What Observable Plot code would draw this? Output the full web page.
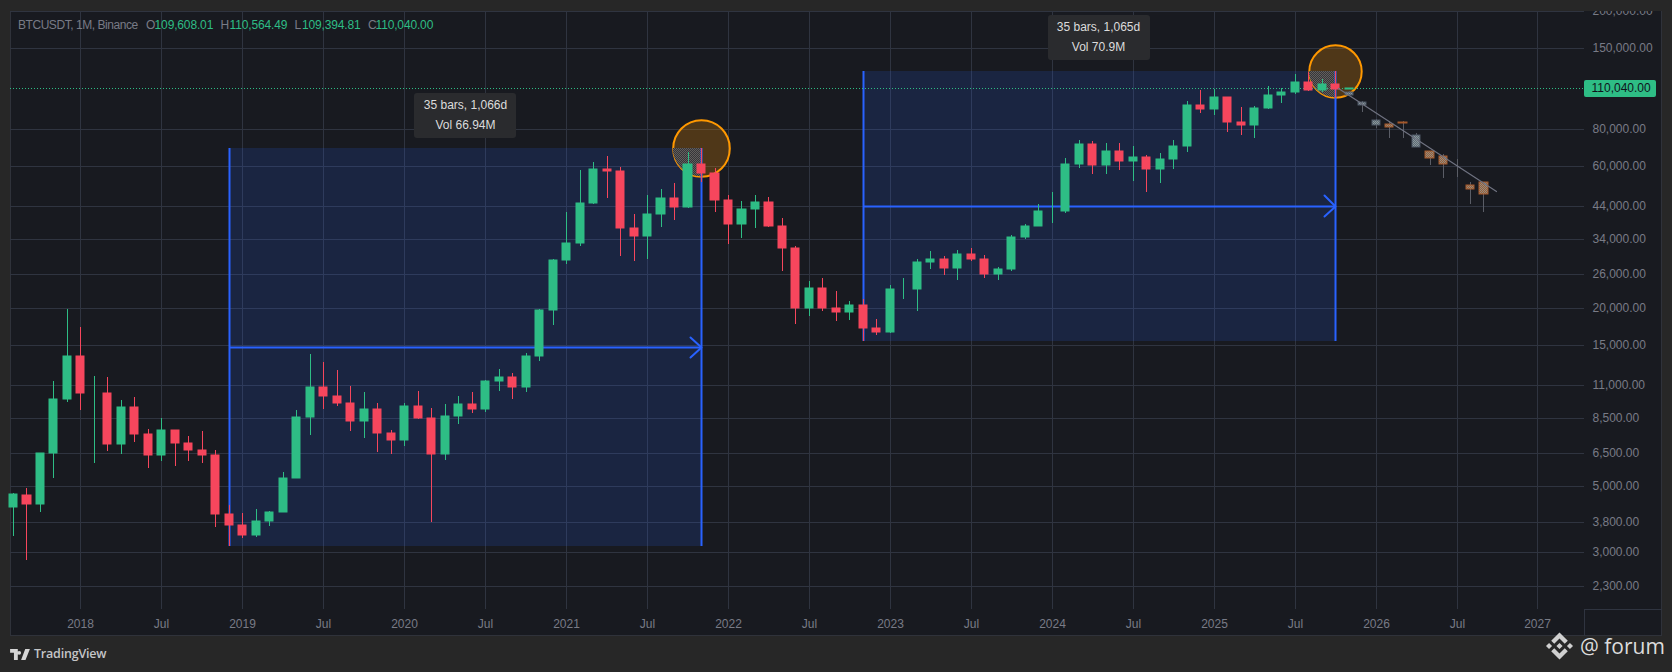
<!DOCTYPE html>
<html>
<head>
<meta charset="utf-8">
<script src="https://cdn.jsdelivr.net/npm/d3@7"></script>
<script src="https://cdn.jsdelivr.net/npm/@observablehq/plot@0.6"></script>
<style>
  html,body{margin:0;padding:0;background:#272727;}
  #page{position:relative;width:1672px;height:672px;overflow:hidden;background:#272727;font-family:"Liberation Sans",Arial,sans-serif;}
  #pane{position:absolute;left:10px;top:10px;width:1652px;height:626px;box-sizing:border-box;border:1px solid #2f323a;background:#181a20;}
  #corner{position:absolute;left:1584px;top:609px;width:78px;height:27px;box-sizing:border-box;border-left:1px solid #2f3440;border-top:1px solid #2f3440;}
  #chart{position:absolute;left:0;top:0;}
  #chart svg{display:block;background:transparent;}
  #topcover{position:absolute;left:0;top:0;width:1672px;height:11px;background:#272727;}
  #legend{position:absolute;left:0;top:17px;width:500px;height:16px;font-size:12px;line-height:16px;color:#787b86;white-space:pre;}
  #legend span{position:absolute;top:0;letter-spacing:-.15px;}
  #legend span.val{color:#2ebd85;}
  #tv{position:absolute;left:10px;top:646px;display:flex;align-items:center;color:#c4c5c7;font-size:12.5px;line-height:16px;font-family:"Open Sans","Liberation Sans",sans-serif;font-weight:600;letter-spacing:-.2px;}
  #forum{position:absolute;left:1546px;top:632px;display:flex;align-items:center;color:#dcdcdc;font-family:"Open Sans","Noto Sans",sans-serif;font-size:21px;line-height:28px;white-space:pre;}
</style>
</head>
<body>
<svg width="0" height="0" style="position:absolute">
  <defs>
    <pattern id="ditherGray" width="2" height="2" patternUnits="userSpaceOnUse">
      <rect width="2" height="2" fill="#5f6c74"/><rect width="1" height="1" fill="#8a979c"/><rect x="1" y="1" width="1" height="1" fill="#8a979c"/>
    </pattern>
    <pattern id="ditherBrown" width="2" height="2" patternUnits="userSpaceOnUse">
      <rect width="2" height="2" fill="#a0602f"/><rect width="1" height="1" fill="#8b8b8b"/><rect x="1" y="1" width="1" height="1" fill="#8b8b8b"/>
    </pattern>
    <pattern id="ditherPatch" width="2" height="2" patternUnits="userSpaceOnUse">
      <rect width="2" height="2" fill="#36353a"/><rect width="1" height="1" fill="#625f5c"/><rect x="1" y="1" width="1" height="1" fill="#625f5c"/>
    </pattern>
  </defs>
</svg>
<div id="page">
  <div id="pane"></div>
  <div id="corner"></div>
  <div id="chart"></div>
  <div id="topcover"></div>
  <div id="legend"></div>
  <div id="tv">
    <svg width="20" height="11" viewBox="0 0 36 20" style="margin-right:4px"><path fill="#d6d6d6" d="M14 20H7V7H0V0h14v20zM28 20h-8l7.5-20H36zM20 7a3.5 3.5 0 1 1-7 0 3.5 3.5 0 0 1 7 0z"/></svg>
    <span>TradingView</span>
  </div>
  <div id="forum">
    <svg width="27" height="28" viewBox="0 0 126.61 126.61" fill="#d0d0d0" style="margin-right:7px"><path d="M38.73 53.2l24.59-24.58 24.6 24.6 14.3-14.31L63.32 0 24.42 38.9z"/><path d="M0 63.31l14.3-14.31 14.31 14.31-14.31 14.3z"/><path d="M38.73 73.41L63.32 98l24.6-24.6 14.31 14.29-38.9 38.91-38.91-38.88z"/><path d="M98 63.31l14.3-14.31 14.31 14.3-14.31 14.31z"/><path d="M77.83 63.3L63.32 48.78 52.59 59.51l-1.24 1.23-2.54 2.54 14.51 14.5 14.51-14.47z"/></svg><span>@ forum</span>
  </div>
</div>
<script>
// Monthly bars, first bar Aug 2017. Bar position = months since Jan 2018.
const firstBar = -5;
const opens = [4261,4689,4378,6463,9837,13716,10285,10325,6922,9246,7485,6391,7735,7011,6626,6369,4041,
  3701,3434,3814,4102,5321,8555,10854,10085,9588,8289,9140,7540,
  7195,9352,8523,6412,8620,9448,9138,11335,11649,10776,13791,19698,
  28923,33092,45134,58739,57697,37253,35045,41461,47100,43820,61300,56950,
  46216,38466,43160,45510,37630,31801,19942,23296,20048,19422,20490,17165,
  16541,23125,23141,28465,29233,27210,30472,29232,25941,26963,34639,37723,
  42283,42580,61130,71280,60672,67540,62772,64628,58974,63327,70215,96407,
  93576,102429,84350,82550,94172,104591,107147,115764,108246,114048,109608.01];
const highs = [4745,4939,6470,11300,19798,17176,11786,11710,9759,10020,7786,8491,7750,7410,7680,6615,4312,
  4069,4198,4140,5600,9074,13971,13148,12325,10905,10370,9532,7750,
  9575,10500,9188,9469,10067,10380,11444,12468,12050,14100,19863,29300,
  41950,58352,61844,64854,59500,41330,48168,50500,52920,67000,69000,59053,
  47990,45821,48189,47444,40023,32395,24668,25211,22799,21085,21480,18387,
  23960,25250,29184,31000,29820,31431,31804,30244,27500,35280,38450,44700,
  48969,63913,73777,72797,71979,71949,70079,65659,66498,73620,99588,108353,
  109588,102500,95000,95758,111980,110530,123218,124474,117900,126199,110564.49];
const lows = [3400,2817,4110,5325,9600,9035,6000,6600,6430,7032,5750,6070,5880,6100,6000,3652,3156,
  3349,3373,3670,4096,5316,7440,9111,9350,7710,7300,6515,6435,
  6850,8445,3782,6150,8117,8833,8893,10518,9825,10374,13195,17572,
  28130,32296,44950,47000,30000,28805,29278,37332,39600,43283,53256,42000,
  32917,34322,37155,37578,26700,17622,18781,19520,18125,18190,15476,16256,
  16499,21351,19549,26942,25811,24800,28861,25166,24901,26538,34097,37615,
  38555,41884,59005,56552,56382,58402,53485,49000,52550,58946,66835,90500,
  89256,78258,76606,74508,93377,98200,105100,107282,107255,102000,109394.81];
const closes = [4724,4378,6463,9838,13716,10285,10326,6923,9246,7485,6391,7730,7011,6626,6371,4041,3702,
  3434,3813,4103,5320,8555,10854,10085,9588,8289,9140,7541,7195,
  9353,8523,6410,8620,9448,9138,11335,11649,10776,13791,19700,28923,
  33092,45135,58740,57694,37253,35045,41461,47100,43824,61299,56950,46216,
  38466,43160,45510,37630,31801,19942,23293,20050,19422,20490,17164,16542,
  23125,23142,28465,29233,27210,30472,29232,25941,26963,34639,37723,42283,
  42580,61130,71280,60672,67540,62772,64628,58974,63327,70215,96407,93576,
  102429,84350,82550,94172,104591,107147,115764,108246,114048,109608,110040];

// Pasted projection bars
const ghostBars  = [94,95,96,97,98,99,100,101,102,103,104];
const ghostTop   = [107100,98900,85700,83300,84800,76700,67400,65000,59900,51900,53100];
const ghostBot   = [104400,96800,82800,81700,84100,69700,64100,61200,59700,50400,48500];
const ghostHigh  = [107500,99500,86800,85500,85000,78000,67400,66100,63300,53000,53300];
const ghostLow   = [103500,91700,80500,74800,74800,69700,60600,54900,55300,44900,42150];
const ghostTone  = ["gray","gray","gray","brown","brown","gray","brown","brown","gray","brown","brown"];

// Axis ticks
const xTicks  = [0,6,12,18,24,30,36,42,48,54,60,66,72,78,84,90,96,102,108];
const xLabels = ["2018","Jul","2019","Jul","2020","Jul","2021","Jul","2022","Jul","2023","Jul","2024","Jul","2025","Jul","2026","Jul","2027"];
const yTicks  = [200000,150000,80000,60000,44000,34000,26000,20000,15000,11000,8500,6500,5000,3800,3000,2300];

// Drawings
const lastPrice = 110040;
const ranges = [
  {start:11, end:46, high:69000, low:3156},
  {start:58, end:93, high:126199, low:15476}
];
const arrowBack = 0.8;
const arrowSpread = 1.083;
const rangeLabels = [
  {x1:24.7, x2:32.26, yTop:106000, yBot:74760, x:28.48, y1:96960, y2:82700, t1:"35 bars, 1,066d", t2:"Vol 66.94M"},
  {x1:71.7, x2:79.25, yTop:194200, yBot:136900, x:75.45, y1:177000, y2:151500, t1:"35 bars, 1,065d", t2:"Vol 70.9M"}
];
const circleRadius = [28.3, 26.2];
const trendX = [93.2, 104.9];
const trendY = [110000, 49600];
const tagBar = {x1:111.46, x2:116.77, yTop:117270, yBot:102780, xText:111.98};

// Legend: text, left position
const legendParts = [
  ["BTCUSDT, 1M, Binance",18,"",-0.45],["O",146,"",0],["109,608.01",154.6,"val",0],
  ["H",220.6,"",0],["110,564.49",229.6,"val",0],["L",294.6,"",0],["109,394.81",302,"val",0],
  ["C",368,"",0],["110,040.00",375.5,"val",0]
];
const legendEl = document.getElementById("legend");
legendParts.forEach(([t,l,c,ls]) => {
  const s = document.createElement("span");
  s.textContent = t; s.style.left = l+"px"; if (c) s.className = c; if (ls) s.style.letterSpacing = ls+"px";
  legendEl.appendChild(s);
});

const bars = opens.map((o,i) => ({i:firstBar+i, o, h:highs[i], l:lows[i], c:closes[i], top:Math.max(o,closes[i]), bot:Math.min(o,closes[i]), color: closes[i]>=o ? "#2ebd85" : "#f6465d"}));
const ghosts = ghostBars.map((b,k) => ({i:b, top:ghostTop[k], bot:ghostBot[k], h:ghostHigh[k], l:ghostLow[k], tone:ghostTone[k]}));
const arrows = ranges.map(r => {
  const m = Math.sqrt(r.high*r.low);
  return [{x:r.end-arrowBack,y:m*arrowSpread},{x:r.end,y:m},{x:r.end-arrowBack,y:m/arrowSpread}];
});
const blue = "#2962ff", grid = "#2f3440", gray = "#787b86";
const half = 0.3;
const ghostFill = d => d.tone==="brown" ? "url(#ditherBrown)" : "url(#ditherGray)";
const ghostStroke = d => d.tone==="brown" ? "#a5582a" : "#4b5563";

const clipToCircle = (id, cx, cy, r) => function(index, scales, values, dims, ctx, next){
  const g = next(index, scales, values, dims, ctx);
  const ns = "http://www.w3.org/2000/svg";
  const clip = document.createElementNS(ns,"clipPath"); clip.setAttribute("id",id);
  const c = document.createElementNS(ns,"circle");
  c.setAttribute("cx",scales.x(cx)); c.setAttribute("cy",scales.y(cy)); c.setAttribute("r",r);
  clip.appendChild(c); g.appendChild(clip); g.setAttribute("clip-path","url(#"+id+")");
  return g;
};

const chart = Plot.plot({
  width:1672, height:672,
  marginLeft:10, marginRight:88, marginTop:11, marginBottom:63,
  style:{background:"transparent", fontFamily:'"Liberation Sans",Arial,sans-serif', fontSize:"12px", color:gray},
  x:{type:"linear", domain:[-5.22,111.45], round:true, label:null},
  y:{type:"log", domain:[1930,200400], round:true, label:null},
  marks:[
    Plot.gridX(xTicks,{stroke:grid, strokeOpacity:1}),
    Plot.gridY(yTicks,{stroke:grid, strokeOpacity:1}),
    Plot.axisX(xTicks,{anchor:"bottom", tickSize:0, tickPadding:10, fill:gray, fontSize:12, tickFormat:d=>xLabels[xTicks.indexOf(d)], label:null}),
    Plot.axisY(yTicks,{anchor:"right", tickSize:0, tickPadding:8, fill:gray, fontSize:12, textAnchor:"start", tickFormat:d3.format(",.2f"), label:null}),
    Plot.rect(ranges,{x1:"start", x2:"end", y1:"low", y2:"high", fill:blue, fillOpacity:0.15}),
    ...ranges.map((r,k) => Plot.dot([r],{x:"end", y:"high", r:circleRadius[k], fill:"#ff9800", fillOpacity:0.24, stroke:"#ff9800", strokeWidth:2})),
    ...ranges.map((r,k) => Plot.rect([r],{x1:r.end-3, x2:"end", y1:r.low, y2:"high", fill:"url(#ditherPatch)", render:clipToCircle("cc"+k, r.end, r.high, circleRadius[k])})),
    Plot.ruleX(ranges,{x:"start", y1:"low", y2:"high", stroke:blue, strokeWidth:2}),
    Plot.ruleX(ranges,{x:"end", y1:"low", y2:"high", stroke:blue, strokeWidth:2}),
    Plot.ruleY(ranges,{y:r=>Math.sqrt(r.high*r.low), x1:"start", x2:"end", stroke:blue, strokeWidth:2}),
    ...arrows.map(a => Plot.line(a,{x:"x", y:"y", stroke:blue, strokeWidth:2, curve:"linear"})),
    Plot.ruleY([lastPrice],{stroke:"#2ebd85", strokeDasharray:"1,2", strokeWidth:1}),
    Plot.ruleX(bars,{x:"i", y1:"l", y2:"h", stroke:"color", strokeWidth:1}),
    Plot.rect(bars,{x1:d=>d.i-half, x2:d=>d.i+half, y1:"bot", y2:"top", fill:"color", stroke:"color", strokeWidth:1}),
    Plot.ruleX(ghosts,{x:"i", y1:"l", y2:"h", stroke:"#5a5d66", strokeWidth:1}),
    Plot.rect(ghosts,{x1:d=>d.i-half, x2:d=>d.i+half, y1:"bot", y2:"top", fill:ghostFill, stroke:ghostStroke, strokeWidth:1}),
    Plot.line(trendX.map((x,k)=>({x,y:trendY[k]})),{x:"x", y:"y", stroke:"#6f7280", strokeWidth:1.2, curve:"linear"}),
    Plot.rect(rangeLabels,{x1:"x1", x2:"x2", y1:"yBot", y2:"yTop", fill:"#2a2b2e", rx:3}),
    Plot.text(rangeLabels,{x:"x", y:"y1", text:"t1", fill:"#dcdcdc", fontSize:12, fontWeight:500}),
    Plot.text(rangeLabels,{x:"x", y:"y2", text:"t2", fill:"#dcdcdc", fontSize:12, fontWeight:500}),
    Plot.rect([tagBar],{x1:"x1", x2:"x2", y1:"yBot", y2:"yTop", fill:"#2ebd85", rx:2}),
    Plot.text([tagBar],{x:"xText", y:()=>lastPrice, text:()=>d3.format(",.2f")(lastPrice), fill:"#10141c", fontSize:12, textAnchor:"start"})
  ]
});
document.getElementById("chart").appendChild(chart);
</script>
</body>
</html>
